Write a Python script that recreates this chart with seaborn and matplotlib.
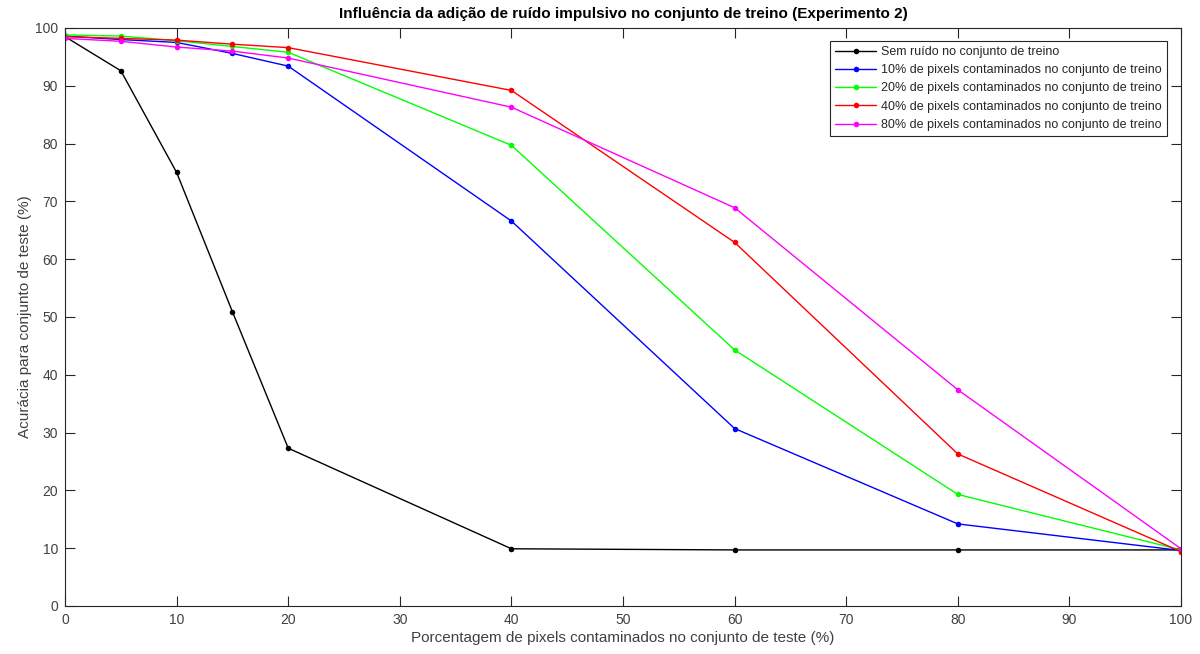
import matplotlib
matplotlib.use("Agg")
import matplotlib.pyplot as plt
import seaborn as sns
import pandas as pd

x_test = [0, 5, 10, 15, 20, 40, 60, 80, 100]
sem_ruido = [98.5, 92.6, 75.0, 50.9, 27.3, 9.9, 9.7, 9.7, 9.7]
treino_10 = [98.6, 98.0, 97.5, 95.6, 93.4, 66.6, 30.7, 14.2, 9.6]
treino_20 = [98.8, 98.6, 97.8, 96.8, 95.8, 79.7, 44.3, 19.3, 9.7]
treino_40 = [98.5, 98.2, 97.9, 97.2, 96.6, 89.2, 62.9, 26.3, 9.4]
treino_80 = [98.2, 97.7, 96.7, 96.0, 94.8, 86.3, 68.9, 37.4, 9.9]

labels = [
    "Sem ruído no conjunto de treino",
    "10% de pixels contaminados no conjunto de treino",
    "20% de pixels contaminados no conjunto de treino",
    "40% de pixels contaminados no conjunto de treino",
    "80% de pixels contaminados no conjunto de treino",
]
series = [sem_ruido, treino_10, treino_20, treino_40, treino_80]
colors = ["#000000", "#0000ff", "#00ff00", "#ff0000", "#ff00ff"]

rows = []
for lab, vals in zip(labels, series):
    for xv, yv in zip(x_test, vals):
        rows.append({"x": xv, "y": yv, "serie": lab})
df = pd.DataFrame(rows)

sns.set_style("white")
plt.rcParams["font.family"] = ["Liberation Sans", "DejaVu Sans"]

fig = plt.figure(figsize=(12, 6.54), dpi=100)
ax = fig.add_axes([0.0542, 0.0734, 0.9300, 0.8838])

sns.lineplot(data=df, x="x", y="y", hue="serie", hue_order=labels,
             palette=dict(zip(labels, colors)), marker="o", markersize=4,
             markeredgewidth=0, linewidth=1.0, ax=ax, sort=False)

ax.set_xlim(0, 100)
ax.set_ylim(0, 100)
ax.set_xticks(range(0, 101, 10))
ax.set_yticks(range(0, 101, 10))
axcol = "#262626"
for s in ax.spines.values():
    s.set_visible(True)
    s.set_color(axcol)
    s.set_linewidth(0.8)
ax.tick_params(direction="in", length=7, width=0.8, colors=axcol,
               labelcolor="#404040", labelsize=10, top=True, right=True,
               bottom=True, left=True, pad=5)
ax.set_xlabel("Porcentagem de pixels contaminados no conjunto de teste (%)",
              fontsize=11, color="#404040", labelpad=3)
ax.set_ylabel("Acurácia para conjunto de teste (%)", fontsize=11,
              color="#404040", labelpad=2)
ax.set_title("Influência da adição de ruído impulsivo no conjunto de treino (Experimento 2)",
             fontsize=11, fontweight="bold", color="#000000", pad=7)

leg = ax.legend(loc="upper right", bbox_to_anchor=(0.9875, 0.9775),
                borderaxespad=0, fontsize=9,
                frameon=True, fancybox=False, edgecolor=axcol, framealpha=1,
                handlelength=3.3, handletextpad=0.4, borderpad=0.4,
                labelspacing=0.5)
leg.get_frame().set_linewidth(0.8)
leg.set_title(None)

fig.savefig("out.png", dpi=100)
